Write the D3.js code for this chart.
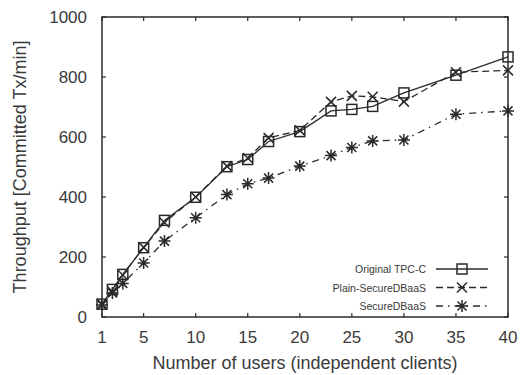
<!DOCTYPE html>
<html>
<head>
<meta charset="utf-8">
<script src="https://cdn.jsdelivr.net/npm/d3@7"></script>
<style>
  body { margin: 0; background: #fff; }
  text { font-family: "Liberation Sans", Arial, sans-serif; fill: #3a3a3a; }
</style>
</head>
<body>
<div id="chart"></div>
<script>
const users = [1, 2, 3, 5, 7, 10, 13, 15, 17, 20, 23, 25, 27, 30, 35, 40];
const original = [43, 92, 142, 231, 322, 399, 501, 525, 585, 618, 687, 692, 702, 747, 806, 867];
const plain = [43, 85, 140, 232, 315, 400, 503, 530, 597, 622, 717, 737, 734, 718, 816, 822];
const secure = [40, 80, 112, 180, 253, 331, 408, 444, 463, 503, 538, 565, 587, 590, 676, 687];
const xTicks = [1, 5, 10, 15, 20, 25, 30, 35, 40];
const yTicks = [0, 200, 400, 600, 800, 1000];

const width = 531, height = 375;
const margin = { top: 17, right: 23, bottom: 58, left: 102 };

const svg = d3.select("#chart")
  .append("svg")
  .attr("width", width)
  .attr("height", height);

const x = d3.scaleLinear()
  .domain([1, 40])
  .range([margin.left, width - margin.right]);

const y = d3.scaleLinear()
  .domain([0, 1000])
  .range([height - margin.bottom, margin.top]);

const ink = "#2a2a2a";
const tick = 4;

// ticks (inside, mirrored)
const grid = svg.append("g").attr("stroke", ink).attr("stroke-width", 1.2);
xTicks.forEach(t => {
  grid.append("line").attr("x1", x(t)).attr("x2", x(t))
    .attr("y1", y(0)).attr("y2", y(0) - tick);
  grid.append("line").attr("x1", x(t)).attr("x2", x(t))
    .attr("y1", y(1000)).attr("y2", y(1000) + tick);
});
yTicks.forEach(t => {
  grid.append("line").attr("x1", x(1)).attr("x2", x(1) + tick)
    .attr("y1", y(t)).attr("y2", y(t));
  grid.append("line").attr("x1", x(40)).attr("x2", x(40) - tick)
    .attr("y1", y(t)).attr("y2", y(t));
});

// border
svg.append("rect")
  .attr("x", x(1)).attr("y", y(1000))
  .attr("width", x(40) - x(1)).attr("height", y(0) - y(1000))
  .attr("fill", "none").attr("stroke", ink).attr("stroke-width", 1.5);

// tick labels
svg.append("g").selectAll("text")
  .data(xTicks).enter().append("text")
  .attr("x", d => x(d)).attr("y", 343)
  .attr("text-anchor", "middle")
  .attr("font-size", 17)
  .text(d => d);

svg.append("g").selectAll("text")
  .data(yTicks).enter().append("text")
  .attr("x", 87).attr("y", d => y(d) + 6)
  .attr("text-anchor", "end")
  .attr("font-size", 17)
  .text(d => d);

// axis titles
svg.append("text")
  .attr("x", 305).attr("y", 369)
  .attr("text-anchor", "middle")
  .attr("font-size", 18)
  .text("Number of users (independent clients)");

svg.append("text")
  .attr("transform", `translate(26,${(y(0) + y(1000)) / 2}) rotate(-90)`)
  .attr("text-anchor", "middle")
  .attr("font-size", 18)
  .text("Throughput [Committed Tx/min]");

const series = [
  { label: "Original TPC-C", values: original, dash: null, marker: "square" },
  { label: "Plain-SecureDBaaS", values: plain, dash: "7,4", marker: "cross" },
  { label: "SecureDBaaS", values: secure, dash: "7,5,1.5,5", marker: "star" }
];

const line = d3.line()
  .x(d => x(d[0]))
  .y(d => y(d[1]));

function drawMarker(g, type, cx, cy) {
  const s = 5;
  if (type === "square") {
    g.append("rect").attr("x", cx - s).attr("y", cy - s)
      .attr("width", 2 * s).attr("height", 2 * s)
      .attr("fill", "none").attr("stroke", ink).attr("stroke-width", 1.5);
  } else if (type === "cross") {
    g.append("path")
      .attr("d", `M${cx - s},${cy - s}L${cx + s},${cy + s}M${cx - s},${cy + s}L${cx + s},${cy - s}`)
      .attr("stroke", ink).attr("stroke-width", 1.5);
  } else {
    const r = 4.5;
    g.append("path")
      .attr("d", `M${cx - r},${cy - r}L${cx + r},${cy + r}M${cx - r},${cy + r}L${cx + r},${cy - r}` +
        `M${cx - s - 1},${cy}L${cx + s + 1},${cy}M${cx},${cy - s - 1}L${cx},${cy + s + 1}`)
      .attr("stroke", ink).attr("stroke-width", 1.5);
  }
}

// draw back to front
series.slice().reverse().forEach(s => {
  const pts = users.map((u, i) => [u, s.values[i]]);
  svg.append("path")
    .datum(pts)
    .attr("d", line)
    .attr("fill", "none")
    .attr("stroke", ink)
    .attr("stroke-width", 1.3)
    .attr("stroke-dasharray", s.dash);
  const g = svg.append("g");
  pts.forEach(p => drawMarker(g, s.marker, x(p[0]), y(p[1])));
});

// legend
const legend = svg.append("g").attr("transform", "translate(436,269)");
series.forEach((s, i) => {
  const row = legend.append("g").attr("transform", `translate(0,${i * 18.5})`);
  row.append("text")
    .attr("x", -10).attr("y", 4)
    .attr("text-anchor", "end")
    .attr("font-size", 10.5)
    .text(s.label);
  row.append("line")
    .attr("x1", 0).attr("x2", 52).attr("y1", 0).attr("y2", 0)
    .attr("stroke", ink).attr("stroke-width", 1.3)
    .attr("stroke-dasharray", s.dash);
  drawMarker(row, s.marker, 26, 0);
});
</script>
</body>
</html>
